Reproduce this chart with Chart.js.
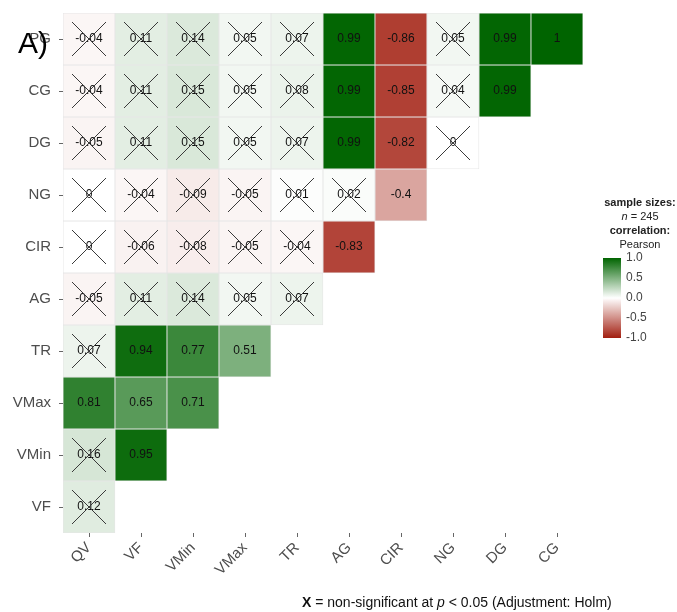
<!DOCTYPE html>
<html>
<head>
<meta charset="utf-8">
<script src="https://cdn.jsdelivr.net/npm/chart.js@4.4.1/dist/chart.umd.min.js"></script>
<style>
  html, body { margin: 0; padding: 0; background: #fff; }
  #wrap { width: 677px; height: 612px; position: relative; }
</style>
</head>
<body>
<div id="wrap"><canvas id="corr"></canvas></div>
<script>
// variables, top row first / left column first
const rowLabels = ["PG", "CG", "DG", "NG", "CIR", "AG", "TR", "VMax", "VMin", "VF"];
const colLabels = ["QV", "VF", "VMin", "VMax", "TR", "AG", "CIR", "NG", "DG", "CG"];

// Pearson r, lower triangle (one array per row)
const rPG   = [-0.04, 0.11, 0.14, 0.05, 0.07, 0.99, -0.86, 0.05, 0.99, 1];
const rCG   = [-0.04, 0.11, 0.15, 0.05, 0.08, 0.99, -0.85, 0.04, 0.99];
const rDG   = [-0.05, 0.11, 0.15, 0.05, 0.07, 0.99, -0.82, 0];
const rNG   = [0, -0.04, -0.09, -0.05, 0.01, 0.02, -0.4];
const rCIR  = [0, -0.06, -0.08, -0.05, -0.04, -0.83];
const rAG   = [-0.05, 0.11, 0.14, 0.05, 0.07];
const rTR   = [0.07, 0.94, 0.77, 0.51];
const rVMax = [0.81, 0.65, 0.71];
const rVMin = [0.16, 0.95];
const rVF   = [0.12];

// 1 = non-significant (crossed out)
const nsPG   = [1, 1, 1, 1, 1, 0, 0, 1, 0, 0];
const nsCG   = [1, 1, 1, 1, 1, 0, 0, 1, 0];
const nsDG   = [1, 1, 1, 1, 1, 0, 0, 1];
const nsNG   = [1, 1, 1, 1, 1, 1, 0];
const nsCIR  = [1, 1, 1, 1, 1, 0];
const nsAG   = [1, 1, 1, 1, 1];
const nsTR   = [1, 0, 0, 0];
const nsVMax = [0, 0, 0];
const nsVMin = [1, 0];
const nsVF   = [1];

const corrRows = [rPG, rCG, rDG, rNG, rCIR, rAG, rTR, rVMax, rVMin, rVF];
const nsRows = [nsPG, nsCG, nsDG, nsNG, nsCIR, nsAG, nsTR, nsVMax, nsVMin, nsVF];

const legendTicks = [1.0, 0.5, 0.0, -0.5, -1.0];

const LOW = [162, 30, 16];
const MID = [255, 255, 255];
const HIGH = [0, 100, 0];

function corrColor(r) {
  const end = r < 0 ? LOW : HIGH;
  const t = Math.min(1, Math.abs(r));
  const c = MID.map((m, k) => Math.round(m + (end[k] - m) * t));
  return `rgb(${c[0]},${c[1]},${c[2]})`;
}

// one floating-bar dataset per row: [row, row + 1] on the y scale
const datasets = corrRows.map((vals, i) => ({
  label: rowLabels[i],
  data: colLabels.map((c, j) => (j < vals.length ? [i, i + 1] : null)),
  backgroundColor: colLabels.map((c, j) => (j < vals.length ? corrColor(vals[j]) : "transparent")),
  borderColor: "#e6e6e6",
  borderWidth: 0.8,
  borderSkipped: false,
  grouped: false,
  barPercentage: 1,
  categoryPercentage: 1,
}));

const cellText = {
  id: "cellText",
  afterDatasetsDraw(chart) {
    const { ctx, scales } = chart;
    const xs = scales.x, ys = scales.y;
    ctx.save();
    corrRows.forEach((vals, i) => {
      const cy = ys.getPixelForValue(i + 0.5);
      vals.forEach((v, j) => {
        const cx = xs.getPixelForValue(j);
        ctx.fillStyle = "#111";
        ctx.font = "12px 'Liberation Sans', Arial, sans-serif";
        ctx.textAlign = "center";
        ctx.textBaseline = "middle";
        ctx.fillText(String(v), cx, cy);
        if (nsRows[i][j]) {
          const h = 17;
          ctx.strokeStyle = "#3a3a3a";
          ctx.lineWidth = 1;
          ctx.beginPath();
          ctx.moveTo(cx - h, cy - h);
          ctx.lineTo(cx + h, cy + h);
          ctx.moveTo(cx + h, cy - h);
          ctx.lineTo(cx - h, cy + h);
          ctx.stroke();
        }
      });
    });
    ctx.restore();
  },
};

const extras = {
  id: "extras",
  afterDraw(chart) {
    const { ctx } = chart;
    const font = "'Liberation Sans', Arial, sans-serif";
    ctx.save();

    // panel tag
    ctx.fillStyle = "#000";
    ctx.font = `30px ${font}`;
    ctx.textAlign = "left";
    ctx.textBaseline = "alphabetic";
    ctx.fillText("A)", 18, 53);

    // legend block
    const lx = 640;
    ctx.textAlign = "center";
    ctx.fillStyle = "#222";
    ctx.font = `bold 11px ${font}`;
    ctx.fillText("sample sizes:", lx, 206);
    ctx.font = `italic 11px ${font}`;
    const nW = ctx.measureText("n").width;
    ctx.font = `11px ${font}`;
    const restW = ctx.measureText(" = 245").width;
    const nx = lx - (nW + restW) / 2;
    ctx.textAlign = "left";
    ctx.font = `italic 11px ${font}`;
    ctx.fillText("n", nx, 220);
    ctx.font = `11px ${font}`;
    ctx.fillText(" = 245", nx + nW, 220);
    ctx.textAlign = "center";
    ctx.font = `bold 11px ${font}`;
    ctx.fillText("correlation:", lx, 234);
    ctx.font = `11px ${font}`;
    ctx.fillText("Pearson", lx, 248);

    const barX = 603, barW = 18, barTop = 258, barBot = 338;
    const g = ctx.createLinearGradient(0, barTop, 0, barBot);
    for (let k = 0; k <= 20; k++) {
      const v = 1 - k / 10;
      g.addColorStop(k / 20, corrColor(v));
    }
    ctx.fillStyle = g;
    ctx.fillRect(barX, barTop, barW, barBot - barTop);
    ctx.fillStyle = "#444";
    ctx.font = `12px ${font}`;
    ctx.textAlign = "left";
    ctx.textBaseline = "middle";
    legendTicks.forEach((t) => {
      const y = barTop + (1 - t) / 2 * (barBot - barTop);
      ctx.fillText(t.toFixed(1), barX + barW + 5, y);
    });

    // caption
    ctx.textBaseline = "alphabetic";
    ctx.fillStyle = "#111";
    let cx = 302;
    const parts = [
      ["X", "bold"], [" = non-significant at ", ""], ["p", "italic"], [" < 0.05 (Adjustment: Holm)", ""],
    ];
    parts.forEach(([s, st]) => {
      ctx.font = `${st} 14px ${font}`.trim();
      ctx.fillText(s, cx, 607);
      cx += ctx.measureText(s).width;
    });
    ctx.restore();
  },
};

new Chart(document.getElementById("corr"), {
  type: "bar",
  data: { labels: colLabels, datasets },
  plugins: [cellText, extras],
  options: {
    responsive: true,
    maintainAspectRatio: false,
    animation: false,
    layout: { padding: { top: 13, right: 94, bottom: 0, left: 0 } },
    plugins: { legend: { display: false }, tooltip: { enabled: false } },
    scales: {
      x: {
        type: "category",
        offset: true,
        grid: { offset: false, drawOnChartArea: false, drawTicks: true, tickLength: 4, color: "#666" },
        border: { display: false },
        ticks: {
          autoSkip: false,
          minRotation: 45,
          maxRotation: 45,
          padding: 2,
          color: "#4d4d4d",
          font: { size: 15, family: "'Liberation Sans', Arial, sans-serif" },
        },
        afterFit(scale) { scale.height = 79; },
      },
      y: {
        type: "linear",
        min: 0,
        max: 10,
        reverse: true,
        grid: { drawOnChartArea: false, drawTicks: true, tickLength: 4, color: "#666" },
        border: { display: false },
        afterBuildTicks(scale) {
          scale.ticks = rowLabels.map((l, i) => ({ value: i + 0.5 }));
        },
        ticks: {
          padding: 8,
          color: "#4d4d4d",
          font: { size: 15, family: "'Liberation Sans', Arial, sans-serif" },
          callback(value) { return rowLabels[Math.floor(value)]; },
        },
        afterFit(scale) {
          scale.width = 63;
          scale.paddingTop = 0;
          scale.paddingBottom = 0;
        },
      },
    },
  },
});
</script>
</body>
</html>
